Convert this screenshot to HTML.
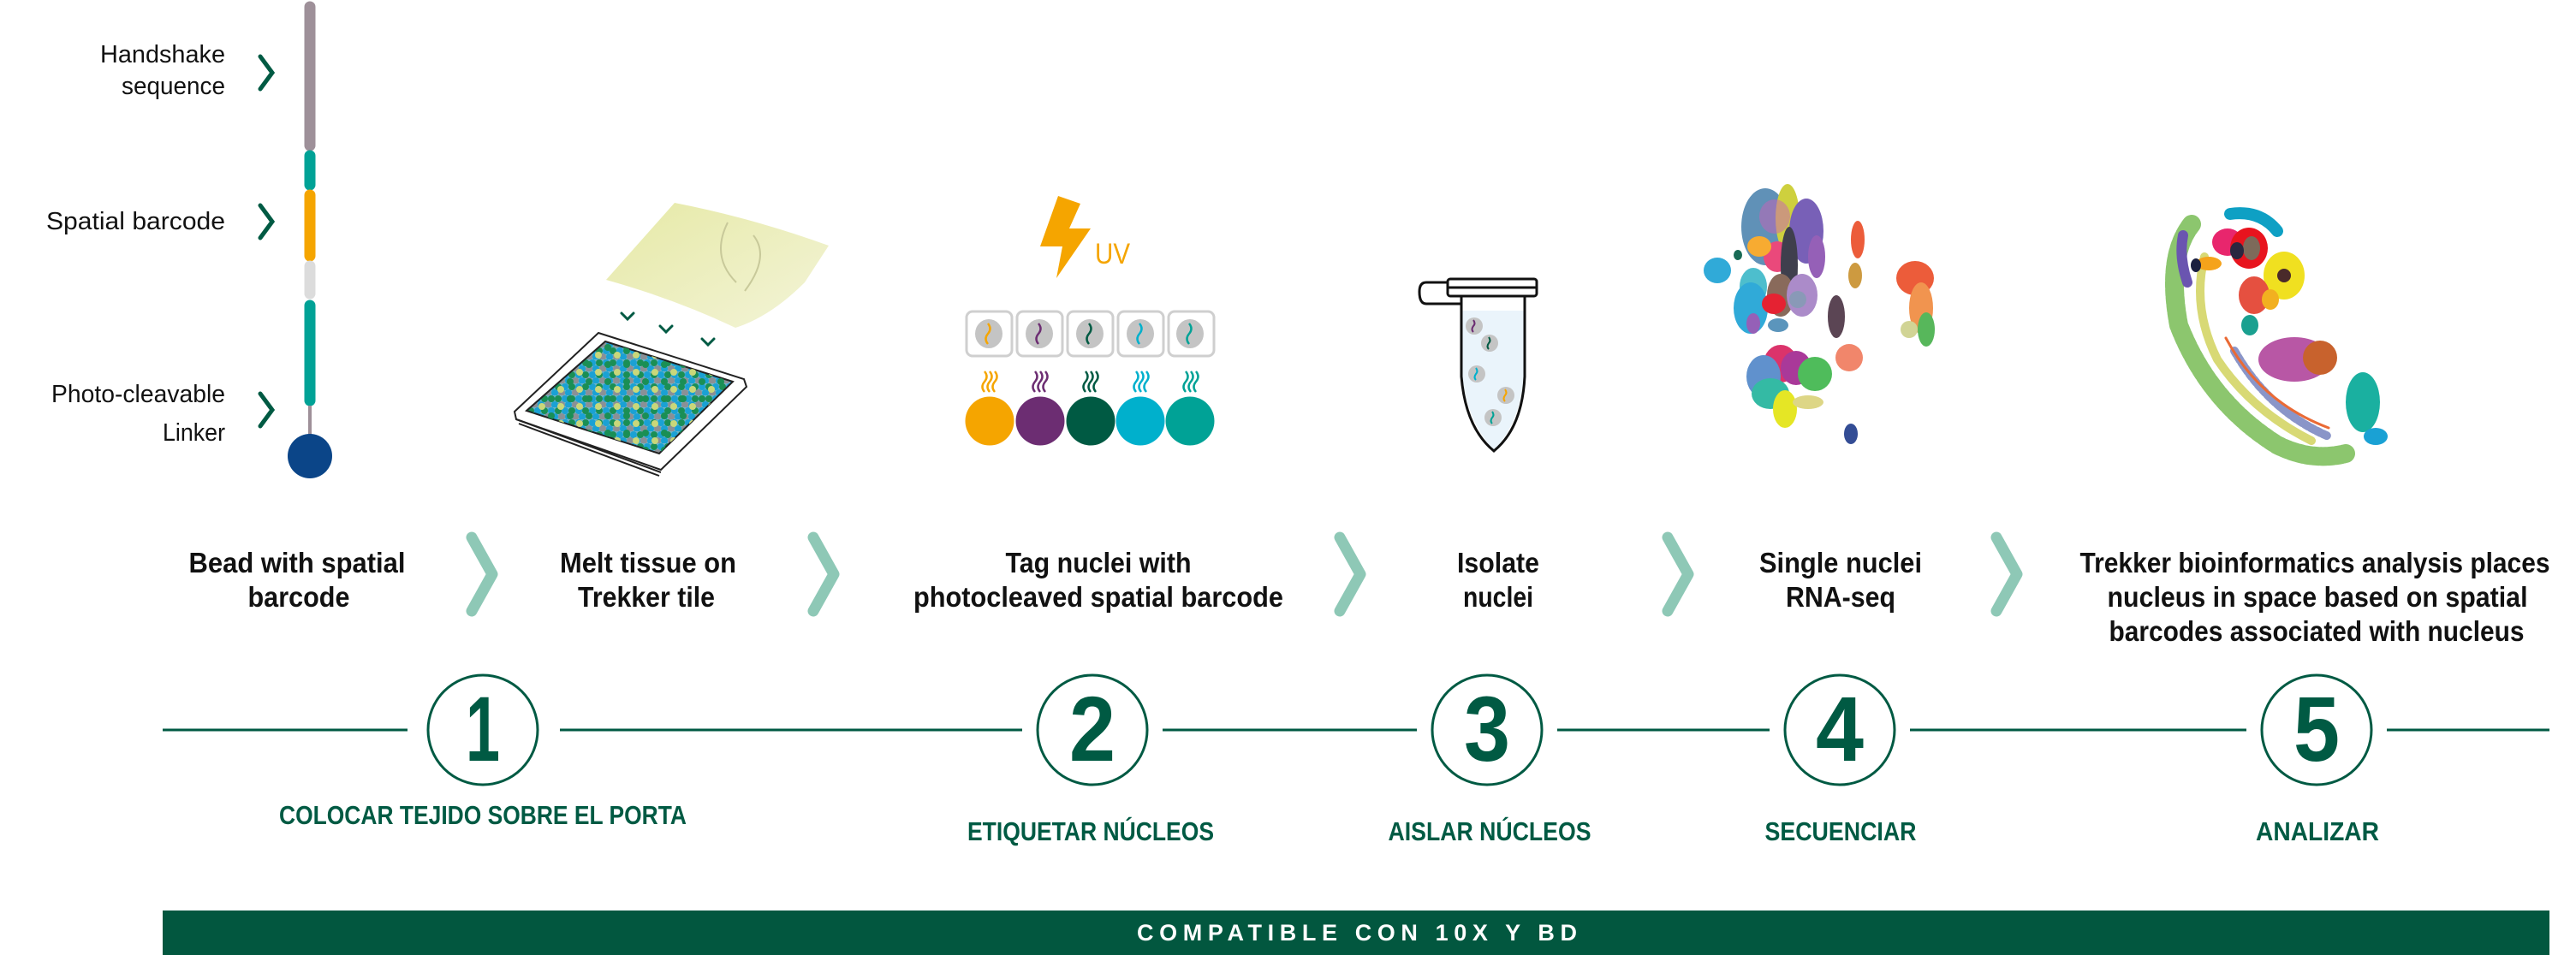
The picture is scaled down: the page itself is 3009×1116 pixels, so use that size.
<!DOCTYPE html>
<html><head><meta charset="utf-8"><style>
html,body{margin:0;padding:0;background:#fff;}
body{width:3009px;height:1116px;overflow:hidden;position:relative;}
svg{position:absolute;left:0;top:0;}
</style></head><body>
<svg width="3009" height="1116" viewBox="0 0 3009 1116" xmlns="http://www.w3.org/2000/svg">
<defs>
<pattern id="dots" width="16" height="14" patternUnits="userSpaceOnUse">
<rect width="16" height="14" fill="#6fb3c9"/>
<circle cx="4" cy="4" r="4" fill="#1aa1d4"/><circle cx="12" cy="4" r="4" fill="#1a8f55"/>
<circle cx="0" cy="11" r="4" fill="#8a9096"/><circle cx="8" cy="11" r="4" fill="#1aa1d4"/><circle cx="16" cy="11" r="4" fill="#8a9096"/>
</pattern>
<pattern id="dots2" width="22" height="20" patternUnits="userSpaceOnUse">
<circle cx="6" cy="6" r="4" fill="#1a8f55"/><circle cx="17" cy="15" r="4" fill="#c9d77a"/>
</pattern>
<linearGradient id="sheet" x1="0" y1="0" x2="1" y2="1"><stop offset="0" stop-color="#e6e9a6"/><stop offset="1" stop-color="#f3f4d8"/></linearGradient>
</defs>

<g stroke-linecap="round" stroke-width="13">
<line x1="362" y1="8" x2="362" y2="170" stroke="#9e9099"/>
<line x1="362" y1="182" x2="362" y2="216" stroke="#00a296"/>
<line x1="362" y1="228" x2="362" y2="299" stroke="#f5a500"/>
<line x1="362" y1="311" x2="362" y2="343" stroke="#dcdcdc"/>
<line x1="362" y1="357" x2="362" y2="468" stroke="#00a296"/>
</g>
<line x1="362" y1="474" x2="362" y2="512" stroke="#9e9099" stroke-width="4"/>
<circle cx="362" cy="533" r="26" fill="#0b4588"/>
<g fill="none" stroke="#005a43" stroke-width="5" stroke-linecap="round">
<polyline points="304,66 318,85 304,104"/>
<polyline points="304,240 318,259 304,278"/>
<polyline points="304,460 318,479 304,498"/>
</g>
<g font-family="Liberation Sans, sans-serif" font-size="29" fill="#111" text-anchor="end">
<text x="263" y="73" textLength="146" lengthAdjust="spacingAndGlyphs">Handshake</text>
<text x="263" y="110" textLength="121" lengthAdjust="spacingAndGlyphs">sequence</text>
<text x="263" y="268" textLength="209" lengthAdjust="spacingAndGlyphs">Spatial barcode</text>
<text x="263" y="470" textLength="203" lengthAdjust="spacingAndGlyphs">Photo-cleavable</text>
<text x="263" y="515" textLength="73" lengthAdjust="spacingAndGlyphs">Linker</text>
</g>

<path d="M788,237 Q880,255 968,287 L940,330 Q900,370 859,383 Q790,350 708,327 Z" fill="url(#sheet)"/>
<path d="M850,260 Q830,300 860,330 M880,275 Q900,300 870,340" fill="none" stroke="#c8c99a" stroke-width="2"/>
<g fill="none" stroke="#005a43" stroke-width="3" stroke-linecap="round">
<polyline points="726,366 733,373 740,366"/><polyline points="771,381 778,388 785,381"/><polyline points="820,396 827,403 834,396"/>
</g>
<path d="M699,389 L869,443 L872,452 L772,549 L603,490 L601,481 Z" fill="#fff" stroke="#222" stroke-width="2"/>
<path d="M707,399 L856,446 L770,530 L615,480 Z" fill="url(#dots)" stroke="#222" stroke-width="2"/>
<path d="M707,399 L856,446 L770,530 L615,480 Z" fill="url(#dots2)"/>
<path d="M603,490 L772,552 M606,495 L770,556" stroke="#222" stroke-width="2" fill="none"/>

<polygon points="1236,229 1262,238 1249,267 1274,267 1234,325 1241,288 1215,288" fill="#f5a500"/>
<text x="1279" y="308" font-family="Liberation Sans, sans-serif" font-size="34" fill="#f5a500" textLength="41" lengthAdjust="spacingAndGlyphs">UV</text>
<g>
<g stroke="#cfcfcf" stroke-width="3" fill="#fff">
<rect x="1129" y="364" width="53" height="52" rx="7"/><rect x="1188" y="364" width="53" height="52" rx="7"/>
<rect x="1247" y="364" width="53" height="52" rx="7"/><rect x="1306" y="364" width="53" height="52" rx="7"/>
<rect x="1365" y="364" width="53" height="52" rx="7"/>
</g>
<g fill="#c4c4c4"><ellipse cx="1155" cy="390" rx="16" ry="17"/><ellipse cx="1214" cy="390" rx="16" ry="17"/><ellipse cx="1273" cy="390" rx="16" ry="17"/><ellipse cx="1332" cy="390" rx="16" ry="17"/><ellipse cx="1390" cy="390" rx="16" ry="17"/></g>
<g fill="none" stroke-width="2.5">
<path d="M1154,378 q5,6 0,12 q-5,6 0,12" stroke="#f5a500"/>
<path d="M1213,378 q5,6 0,12 q-5,6 0,12" stroke="#6c2d72"/>
<path d="M1272,378 q5,6 0,12 q-5,6 0,12" stroke="#005a43"/>
<path d="M1331,378 q5,6 0,12 q-5,6 0,12" stroke="#00b0cc"/>
<path d="M1389,378 q5,6 0,12 q-5,6 0,12" stroke="#00a296"/>
</g>
<g fill="none" stroke-width="2.5">
<g stroke="#f5a500"><path d="M1150,434 q5,6 0,12 q-5,6 0,12"/><path d="M1156,434 q5,6 0,12 q-5,6 0,12"/><path d="M1162,434 q5,6 0,12 q-5,6 0,12"/></g>
<g stroke="#6c2d72"><path d="M1209,434 q5,6 0,12 q-5,6 0,12"/><path d="M1215,434 q5,6 0,12 q-5,6 0,12"/><path d="M1221,434 q5,6 0,12 q-5,6 0,12"/></g>
<g stroke="#005a43"><path d="M1268,434 q5,6 0,12 q-5,6 0,12"/><path d="M1274,434 q5,6 0,12 q-5,6 0,12"/><path d="M1280,434 q5,6 0,12 q-5,6 0,12"/></g>
<g stroke="#00b0cc"><path d="M1327,434 q5,6 0,12 q-5,6 0,12"/><path d="M1333,434 q5,6 0,12 q-5,6 0,12"/><path d="M1339,434 q5,6 0,12 q-5,6 0,12"/></g>
<g stroke="#00a296"><path d="M1385,434 q5,6 0,12 q-5,6 0,12"/><path d="M1391,434 q5,6 0,12 q-5,6 0,12"/><path d="M1397,434 q5,6 0,12 q-5,6 0,12"/></g>
</g>
<circle cx="1156" cy="492" r="28.5" fill="#f5a500"/><circle cx="1215" cy="492" r="28.5" fill="#6c2d72"/>
<circle cx="1274" cy="492" r="28.5" fill="#005a43"/><circle cx="1332" cy="492" r="28.5" fill="#00b0cc"/>
<circle cx="1390" cy="492" r="28.5" fill="#00a296"/>
</g>

<path d="M1708,363 L1780,363 L1780,440 Q1775,495 1745,526 Q1715,495 1708,440 Z" fill="#eaf4fb"/>
<path d="M1707,346 L1707,440 Q1712,500 1745,527 Q1778,500 1781,440 L1781,346" fill="none" stroke="#111" stroke-width="3"/>
<rect x="1691" y="326" width="104" height="20" rx="3" fill="#fff" stroke="#111" stroke-width="3"/>
<line x1="1691" y1="336" x2="1795" y2="336" stroke="#111" stroke-width="3"/>
<path d="M1691,330 L1666,330 Q1658,330 1658,341 Q1658,355 1666,355 L1707,355" fill="none" stroke="#111" stroke-width="3"/>
<g fill="#c4c4c4"><circle cx="1722" cy="381" r="10"/><circle cx="1740" cy="401" r="10"/><circle cx="1725" cy="437" r="10"/><circle cx="1759" cy="462" r="10"/><circle cx="1744" cy="488" r="10"/></g>
<g fill="none" stroke-width="2">
<path d="M1721,374 q3,4 0,7 q-3,4 0,7" stroke="#6c2d72"/><path d="M1739,394 q3,4 0,7 q-3,4 0,7" stroke="#005a43"/>
<path d="M1724,430 q3,4 0,7 q-3,4 0,7" stroke="#00b0cc"/><path d="M1758,455 q3,4 0,7 q-3,4 0,7" stroke="#f5a500"/>
<path d="M1743,481 q3,4 0,7 q-3,4 0,7" stroke="#00a296"/>
</g>

<g opacity="0.9">
<ellipse cx="2062" cy="265" rx="28" ry="45" fill="#4f86b0"/>
<ellipse cx="2088" cy="255" rx="14" ry="40" fill="#c9cc2a"/>
<ellipse cx="2110" cy="270" rx="20" ry="38" fill="#6a4fb0"/>
<ellipse cx="2076" cy="300" rx="16" ry="18" fill="#e8366d"/>
<ellipse cx="2055" cy="288" rx="14" ry="12" fill="#f7a21b"/>
<ellipse cx="2090" cy="310" rx="10" ry="45" fill="#2b2b3a"/>
<ellipse cx="2122" cy="300" rx="10" ry="25" fill="#8a4fb0"/>
<ellipse cx="2080" cy="345" rx="16" ry="25" fill="#7d5a4a"/>
<ellipse cx="2006" cy="316" rx="16" ry="15" fill="#1aa1d4"/>
<ellipse cx="2030" cy="298" rx="5" ry="6" fill="#005a43"/>
<ellipse cx="2048" cy="335" rx="16" ry="22" fill="#3ab7c8"/>
<ellipse cx="2045" cy="360" rx="20" ry="30" fill="#1aa1d4"/>
<ellipse cx="2072" cy="355" rx="14" ry="12" fill="#e30b1c"/>
<ellipse cx="2048" cy="378" rx="8" ry="12" fill="#8a4fb0"/>
<ellipse cx="2105" cy="345" rx="18" ry="25" fill="#a37fc4"/>
<ellipse cx="2077" cy="380" rx="12" ry="8" fill="#4a8ab5"/>
<ellipse cx="2073" cy="253" rx="18" ry="20" fill="#c34fb0" opacity="0.5"/>
<ellipse cx="2170" cy="280" rx="8" ry="22" fill="#ea4b25"/>
<ellipse cx="2167" cy="322" rx="8" ry="15" fill="#c8902c"/>
<ellipse cx="2145" cy="370" rx="10" ry="25" fill="#4a3142"/>
<ellipse cx="2237" cy="325" rx="22" ry="20" fill="#ea4b25"/>
<ellipse cx="2244" cy="360" rx="14" ry="30" fill="#f0893d"/>
<ellipse cx="2250" cy="385" rx="10" ry="20" fill="#45b04a"/>
<ellipse cx="2230" cy="385" rx="10" ry="10" fill="#cdd08a"/>
<ellipse cx="2080" cy="425" rx="20" ry="22" fill="#d81e5b"/>
<ellipse cx="2098" cy="430" rx="18" ry="20" fill="#a0248f"/>
<ellipse cx="2060" cy="440" rx="20" ry="25" fill="#4f86c8"/>
<ellipse cx="2068" cy="460" rx="22" ry="18" fill="#1fb39b"/>
<ellipse cx="2085" cy="478" rx="14" ry="22" fill="#e3e40e"/>
<ellipse cx="2120" cy="437" rx="20" ry="20" fill="#3cb54a"/>
<ellipse cx="2160" cy="418" rx="16" ry="16" fill="#f07a5c"/>
<ellipse cx="2112" cy="470" rx="18" ry="8" fill="#dad27a"/>
<ellipse cx="2162" cy="507" rx="8" ry="12" fill="#1e3a8a"/>
<ellipse cx="2100" cy="350" rx="10" ry="10" fill="#7d8fb0"/>
</g>

<g fill="none" stroke-linecap="round">
<path d="M2560,262 Q2530,300 2545,380 Q2580,470 2660,520 Q2700,540 2740,530" stroke="#6fb84a" stroke-width="22" stroke-dasharray="6 3" opacity="0.8"/>
<path d="M2575,300 Q2560,360 2590,420 Q2630,480 2700,515" stroke="#c7c93a" stroke-width="10" opacity="0.7"/>
<path d="M2610,410 Q2650,480 2720,510" stroke="#8a95c8" stroke-width="10" stroke-dasharray="5 3"/>
<path d="M2600,395 Q2640,470 2720,500" stroke="#ea6a35" stroke-width="3"/>
<path d="M2605,250 Q2640,245 2660,270" stroke="#0ea0c4" stroke-width="14"/>
<path d="M2550,275 Q2545,300 2555,330" stroke="#6a55b0" stroke-width="12"/>
</g>
<ellipse cx="2602" cy="283" rx="18" ry="16" fill="#e8266d"/>
<ellipse cx="2627" cy="290" rx="22" ry="24" fill="#e8141e"/>
<ellipse cx="2630" cy="290" rx="10" ry="14" fill="#7d6a5a"/>
<ellipse cx="2613" cy="293" rx="8" ry="10" fill="#2a2740"/>
<ellipse cx="2580" cy="308" rx="15" ry="8" fill="#f5a31b"/>
<ellipse cx="2565" cy="310" rx="6" ry="8" fill="#1b2040"/>
<ellipse cx="2668" cy="322" rx="24" ry="28" fill="#f0e020"/>
<ellipse cx="2668" cy="322" rx="8" ry="8" fill="#4a2a2a"/>
<ellipse cx="2633" cy="345" rx="18" ry="22" fill="#e55040"/>
<ellipse cx="2652" cy="350" rx="10" ry="12" fill="#f2b020"/>
<ellipse cx="2628" cy="380" rx="10" ry="12" fill="#1aa090"/>
<ellipse cx="2680" cy="420" rx="42" ry="26" fill="#a62d8f" opacity="0.8"/>
<ellipse cx="2710" cy="418" rx="20" ry="20" fill="#c8622d"/>
<ellipse cx="2760" cy="470" rx="20" ry="35" fill="#1ab0a0"/>
<ellipse cx="2775" cy="510" rx="14" ry="10" fill="#1aa1d4"/>

<g fill="none" stroke="#8ec8b6" stroke-width="13" stroke-linecap="round" stroke-linejoin="round">
<polyline points="551,628 575,671 551,714"/>
<polyline points="950,628 974,671 950,714"/>
<polyline points="1565,628 1589,671 1565,714"/>
<polyline points="1948,628 1972,671 1948,714"/>
<polyline points="2332,628 2356,671 2332,714"/>
</g>

<g font-family="Liberation Sans, sans-serif" font-weight="bold" font-size="33" fill="#111" text-anchor="middle">
<text x="347" y="669" textLength="253" lengthAdjust="spacingAndGlyphs">Bead with spatial</text>
<text x="349" y="709" textLength="119" lengthAdjust="spacingAndGlyphs">barcode</text>
<text x="757" y="669" textLength="206" lengthAdjust="spacingAndGlyphs">Melt tissue on</text>
<text x="755" y="709" textLength="160" lengthAdjust="spacingAndGlyphs">Trekker tile</text>
<text x="1283" y="669" textLength="217" lengthAdjust="spacingAndGlyphs">Tag nuclei with</text>
<text x="1283" y="709" textLength="432" lengthAdjust="spacingAndGlyphs">photocleaved spatial barcode</text>
<text x="1750" y="669" textLength="96" lengthAdjust="spacingAndGlyphs">Isolate</text>
<text x="1750" y="709" textLength="82" lengthAdjust="spacingAndGlyphs">nuclei</text>
<text x="2150" y="669" textLength="190" lengthAdjust="spacingAndGlyphs">Single nuclei</text>
<text x="2150" y="709" textLength="128" lengthAdjust="spacingAndGlyphs">RNA-seq</text>
<text x="2704" y="669" textLength="549" lengthAdjust="spacingAndGlyphs">Trekker bioinformatics analysis places</text>
<text x="2707" y="709" textLength="491" lengthAdjust="spacingAndGlyphs">nucleus in space based on spatial</text>
<text x="2706" y="749" textLength="485" lengthAdjust="spacingAndGlyphs">barcodes associated with nucleus</text>
</g>

<line x1="190" y1="853" x2="2978" y2="853" stroke="#005a43" stroke-width="3"/>
<g fill="#fff">
<rect x="476" y="840" width="178" height="26"/><rect x="1194" y="840" width="164" height="26"/>
<rect x="1655" y="840" width="164" height="26"/><rect x="2067" y="840" width="164" height="26"/>
<rect x="2624" y="840" width="164" height="26"/>
</g>
<g fill="#fff" stroke="#005a43" stroke-width="3">
<circle cx="564" cy="853" r="64"/><circle cx="1276" cy="853" r="64"/><circle cx="1737" cy="853" r="64"/>
<circle cx="2149" cy="853" r="64"/><circle cx="2706" cy="853" r="64"/>
</g>
<g font-family="Liberation Sans, sans-serif" font-weight="bold" font-size="108" fill="#005a43" text-anchor="middle">
<text x="564" y="889" textLength="40" lengthAdjust="spacingAndGlyphs">1</text>
<text x="1276" y="889" textLength="54" lengthAdjust="spacingAndGlyphs">2</text>
<text x="1737" y="889" textLength="54" lengthAdjust="spacingAndGlyphs">3</text>
<text x="2149" y="889" textLength="56" lengthAdjust="spacingAndGlyphs">4</text>
<text x="2706" y="889" textLength="54" lengthAdjust="spacingAndGlyphs">5</text>
</g>
<g font-family="Liberation Sans, sans-serif" font-weight="bold" font-size="31" fill="#005a43" text-anchor="middle">
<text x="564" y="963" textLength="476" lengthAdjust="spacingAndGlyphs">COLOCAR TEJIDO SOBRE EL PORTA</text>
<text x="1274" y="982" textLength="288" lengthAdjust="spacingAndGlyphs">ETIQUETAR NÚCLEOS</text>
<text x="1740" y="982" textLength="237" lengthAdjust="spacingAndGlyphs">AISLAR NÚCLEOS</text>
<text x="2150" y="982" textLength="177" lengthAdjust="spacingAndGlyphs">SECUENCIAR</text>
<text x="2707" y="982" textLength="144" lengthAdjust="spacingAndGlyphs">ANALIZAR</text>
</g>

<rect x="190" y="1064" width="2788" height="52" fill="#02573f"/>
<text x="1585" y="1099" font-family="Liberation Sans, sans-serif" font-weight="bold" font-size="27" fill="#fff" text-anchor="middle" textLength="514" lengthAdjust="spacing">COMPATIBLE CON 10X Y BD</text>
</svg>
</body></html>
